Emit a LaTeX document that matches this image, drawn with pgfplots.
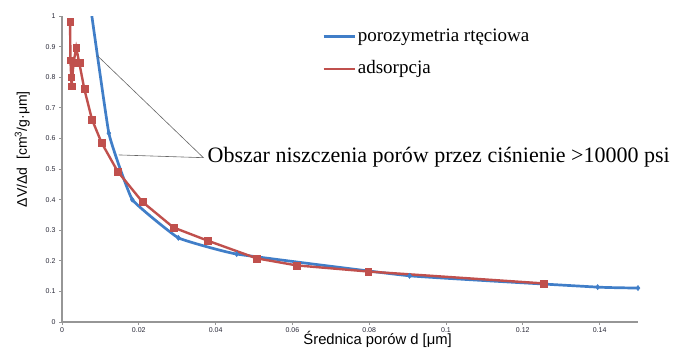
\documentclass[border=0pt]{standalone}
\usepackage{fontspec}
\setmainfont{Liberation Sans}
\newfontfamily\serifface{Liberation Serif}
\usepackage{pgfplots}
\pgfplotsset{compat=1.18}
\definecolor{hgblue}{RGB}{64,126,200}
\definecolor{adsred}{RGB}{192,80,77}
\definecolor{axgray}{RGB}{150,150,150}
\definecolor{ticktext}{RGB}{40,40,55}

\begin{document}
\begin{tikzpicture}[x=1pt,y=1pt]
\useasboundingbox (0,0) rectangle (680,349);
\begin{axis}[
  at={(62pt,27pt)}, anchor=south west,
  scale only axis, width=576pt, height=306pt,
  xmin=0, xmax=0.15, ymin=0, ymax=1,
  axis lines*=left,
  axis line style={axgray, line width=1.2pt},
  tick align=outside, major tick length=3pt,
  tick style={axgray, line width=0.8pt},
  xtick={0,0.02,0.04,0.06,0.08,0.1,0.12,0.14},
  xticklabels={0,0.02,0.04,0.06,0.08,0.1,0.12,0.14},
  ytick={0,0.1,0.2,0.3,0.4,0.5,0.6,0.7,0.8,0.9,1},
  yticklabels={0,0.1,0.2,0.3,0.4,0.5,0.6,0.7,0.8,0.9,1},
  ticklabel style={font=\fontsize{7}{8}\selectfont, text=ticktext},
  xticklabel style={yshift=1pt},
  /pgf/number format/assume math mode=true,
  xlabel={Średnica porów d [μm]},
  xlabel style={font=\fontsize{14.8}{16}\selectfont, at={(axis description cs:0.548,-0.058)}, anchor=center},
  ylabel={ΔV/Δd\ \ [cm\textsuperscript{3}/g·μm]},
  ylabel style={font=\fontsize{14}{16}\selectfont, at={(axis description cs:-0.069,0.565)}, anchor=center, rotate=0},
  legend style={draw=none, fill=none, at={(axis description cs:0.4514,0.985)}, anchor=north west,
    font=\serifface\fontsize{19}{22}\selectfont, row sep=0pt, inner sep=0pt,
    nodes={inner sep=2pt, text height=19pt, text depth=9pt}},
  legend cell align=left,
]
% mercury intrusion porosimetry
\addplot[hgblue, line width=2.7pt, smooth, tension=0.18, mark=diamond*, mark size=2.6pt,
  mark options={solid, fill=hgblue, line width=0.5pt},
  legend image code/.code={\draw[hgblue, line width=2.7pt] (0pt,0pt) -- (31pt,0pt);}]
  coordinates {
  (0.0061,1.15) (0.0122,0.617) (0.0183,0.400) (0.0303,0.275) (0.0455,0.222)
  (0.0905,0.151) (0.1395,0.114) (0.150,0.111)
};
\addlegendentry{porozymetria rtęciowa}
% nitrogen adsorption
\addplot[adsred, line width=2.4pt, mark=square*, mark size=3.4pt,
  mark options={solid, fill=adsred, line width=0.3pt},
  legend image code/.code={\draw[adsred, line width=2.2pt] (0pt,0pt) -- (31pt,0pt);}]
  coordinates {
  (0.0021,0.981) (0.0022,0.856) (0.0024,0.800) (0.0025,0.771) (0.0030,0.847)
  (0.0037,0.896) (0.0045,0.847) (0.0058,0.762) (0.0078,0.662) (0.0103,0.586)
  (0.0145,0.492) (0.0209,0.393) (0.0290,0.309) (0.0379,0.266) (0.0507,0.208)
  (0.0611,0.185) (0.0797,0.165) (0.1255,0.126)
};
\addlegendentry{adsorpcja}
% callout marking the pore-crushing region
\draw[black!60, line width=0.6pt] (axis cs:0.00924,0.870) -- (axis cs:0.03682,0.537)
  -- (axis cs:0.01473,0.546);
\coordinate (callout) at (axis cs:0.0379,0.537);
\end{axis}
\node[anchor=west, inner sep=0pt, font=\serifface\fontsize{22}{26}\selectfont]
  at (callout) {Obszar niszczenia porów przez ciśnienie >10000 psi};
\end{tikzpicture}
\end{document}
